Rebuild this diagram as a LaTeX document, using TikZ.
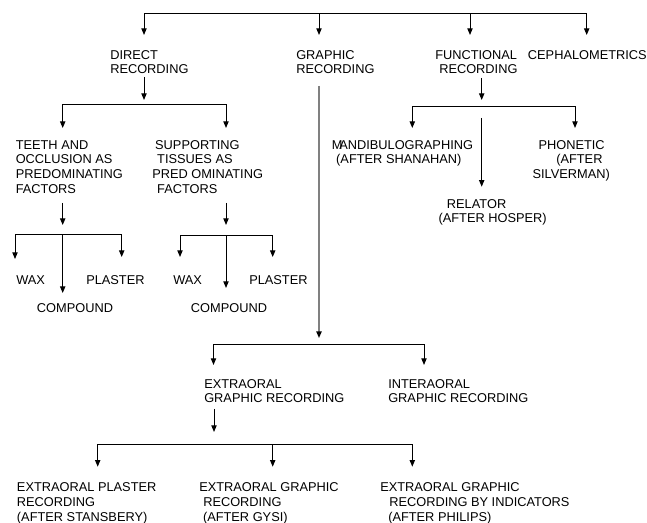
\documentclass[tikz,border=0pt]{standalone}
\usepackage{fontspec}
\setmainfont{Liberation Sans}
\usetikzlibrary{arrows.meta}
\begin{document}
\begin{tikzpicture}[x=0.75pt,y=-0.75pt,
  lbl/.style={anchor=north west, inner sep=0pt, align=left, font=\fontsize{9.6}{11}\selectfont},
  conn/.style={line width=0.75pt, black},
  arr/.style={conn, -{Triangle[width=4pt,length=5pt]}},
  arrtwo/.style={conn, {Triangle[width=4pt,length=5pt]}-{Triangle[width=4pt,length=5pt]}},
  garr/.style={line width=1.1pt, color=black!50, -{Triangle[width=4pt,length=5pt,color=black]}}]
\useasboundingbox (0,0) rectangle (647,523);

% ---------- text nodes ----------
\node[lbl] (direct) at (110,50) {DIRECT\\RECORDING};
\node[lbl] (graphic) at (296,50) {GRAPHIC\\RECORDING};
\node[lbl] (functional) at (435,50) {FUNCTIONAL\\\hspace*{3pt}RECORDING};
\node[lbl] (ceph) at (527.7,50) {CEPHALOMETRICS};

\node[lbl] (teeth) at (15.5,140) {TEETH AND\\OCCLUSION AS\\PREDOMINATING\\FACTORS};
\node[lbl] (support) at (152,140) {\hspace*{2.2pt}SUPPORTING\\\hspace*{3.7pt}TISSUES AS\\PRED OMINATING\\\hspace*{3.7pt}FACTORS};

\node[lbl] (wax1) at (16,275) {WAX};
\node[lbl] (plaster1) at (86,275) {PLASTER};
\node[lbl] (compound1) at (36.7,303) {COMPOUND};
\node[lbl] (wax2) at (173,275) {WAX};
\node[lbl] (plaster2) at (249,275) {PLASTER};
\node[lbl] (compound2) at (190.7,303) {COMPOUND};

\node[lbl] (mandib) at (331.7,140) {M\kern-2.5pt ANDIBULOGRAPHING\\\hspace*{3.2pt}(AFTER SHANAHAN)};
\node[lbl] (phonetic) at (532.3,140) {\hspace*{4.5pt}PHONETIC\\\hspace*{17.8pt}(AFTER\\SILVERMAN)};
\node[lbl] (relator) at (438.3,199) {\hspace*{6.3pt}RELATOR\\(AFTER HOSPER)};

\node[lbl] (extra) at (204,379) {EXTRAORAL\\GRAPHIC RECORDING};
\node[lbl] (intera) at (388,379) {INTERAORAL\\GRAPHIC RECORDING};

\node[lbl] (stans) at (16.7,482.7) {EXTRAORAL PLASTER\\RECORDING\\(AFTER STANSBERY)};
\node[lbl] (gysi) at (199,482.7) {EXTRAORAL GRAPHIC\\\hspace*{3pt}RECORDING\\\hspace*{2.8pt}(AFTER GYSI)};
\node[lbl] (philips) at (380,482.7) {EXTRAORAL GRAPHIC\\\hspace*{6.8pt}RECORDING BY INDICATORS\\\hspace*{6pt}(AFTER PHILIPS)};

% ---------- coordinates ----------
% top bar
\coordinate (rA) at (144,13.3);
\coordinate (rB) at (319,13.3);
\coordinate (rC) at (470,13.3);
\coordinate (rD) at (586.7,13.3);
\coordinate (rAt) at (144,35);
\coordinate (rBt) at (319,35);
\coordinate (rCt) at (470,35);
\coordinate (rDt) at (586.7,35);
% direct
\coordinate (dS) at (144,77);
\coordinate (dT) at (144,100);
\coordinate (dL) at (62.7,105);
\coordinate (dR) at (226,105);
\coordinate (dLt) at (62.7,128);
\coordinate (dRt) at (226,128);
% teeth
\coordinate (tS) at (62.7,203);
\coordinate (tT) at (62.7,225);
\coordinate (tL) at (15,235);
\coordinate (tR) at (121.7,235);
\coordinate (tM) at (62.7,235);
\coordinate (tLt) at (15,259);
\coordinate (tRt) at (121.7,257);
\coordinate (tMt) at (62.7,293);
% supporting
\coordinate (sS) at (226,203);
\coordinate (sT) at (226,225);
\coordinate (sL) at (180,235.5);
\coordinate (sR) at (272.7,235.5);
\coordinate (sM) at (226,235.5);
\coordinate (sLt) at (180,257);
\coordinate (sRt) at (272.7,257);
\coordinate (sMt) at (226,288);
% graphic
\coordinate (gS) at (319,86);
\coordinate (gT) at (319,338);
\coordinate (gL) at (213.5,344.5);
\coordinate (gR) at (424,344.5);
\coordinate (gLt) at (213.5,365);
\coordinate (gRt) at (424,365);
% extraoral
\coordinate (eS) at (214,409);
\coordinate (eT) at (214,432);
\coordinate (eL) at (97.7,445);
\coordinate (eM) at (272.7,445);
\coordinate (eR) at (412.3,445);
\coordinate (eLt) at (97.7,466.7);
\coordinate (eMt) at (272.7,466.7);
\coordinate (eRt) at (412.3,466.7);
% functional
\coordinate (fS) at (481.7,78);
\coordinate (fT) at (481.7,100);
\coordinate (fL) at (412.3,106.7);
\coordinate (fR) at (575,106.7);
\coordinate (fLt) at (412.3,128);
\coordinate (fRt) at (575,128);
\coordinate (fMs) at (481.7,118);
\coordinate (fMt) at (481.7,186.7);

% ---------- connectors ----------
\draw[arrtwo] (rAt) -- (rA) -- (rD) -- (rDt);
\draw[arr] (rB) -- (rBt);
\draw[arr] (rC) -- (rCt);

\draw[arr] (dS) -- (dT);
\draw[arrtwo] (dLt) -- (dL) -- (dR) -- (dRt);

\draw[arr] (tS) -- (tT);
\draw[arrtwo] (tLt) -- (tL) -- (tR) -- (tRt);
\draw[arr] (tM) -- (tMt);

\draw[arr] (sS) -- (sT);
\draw[arrtwo] (sLt) -- (sL) -- (sR) -- (sRt);
\draw[arr] (sM) -- (sMt);

\draw[garr] (gS) -- (gT);
\draw[arrtwo] (gLt) -- (gL) -- (gR) -- (gRt);

\draw[arr] (eS) -- (eT);
\draw[arrtwo] (eLt) -- (eL) -- (eR) -- (eRt);
\draw[arr] (eM) -- (eMt);

\draw[arr] (fS) -- (fT);
\draw[arrtwo] (fLt) -- (fL) -- (fR) -- (fRt);
\draw[arr] (fMs) -- (fMt);
\end{tikzpicture}
\end{document}
